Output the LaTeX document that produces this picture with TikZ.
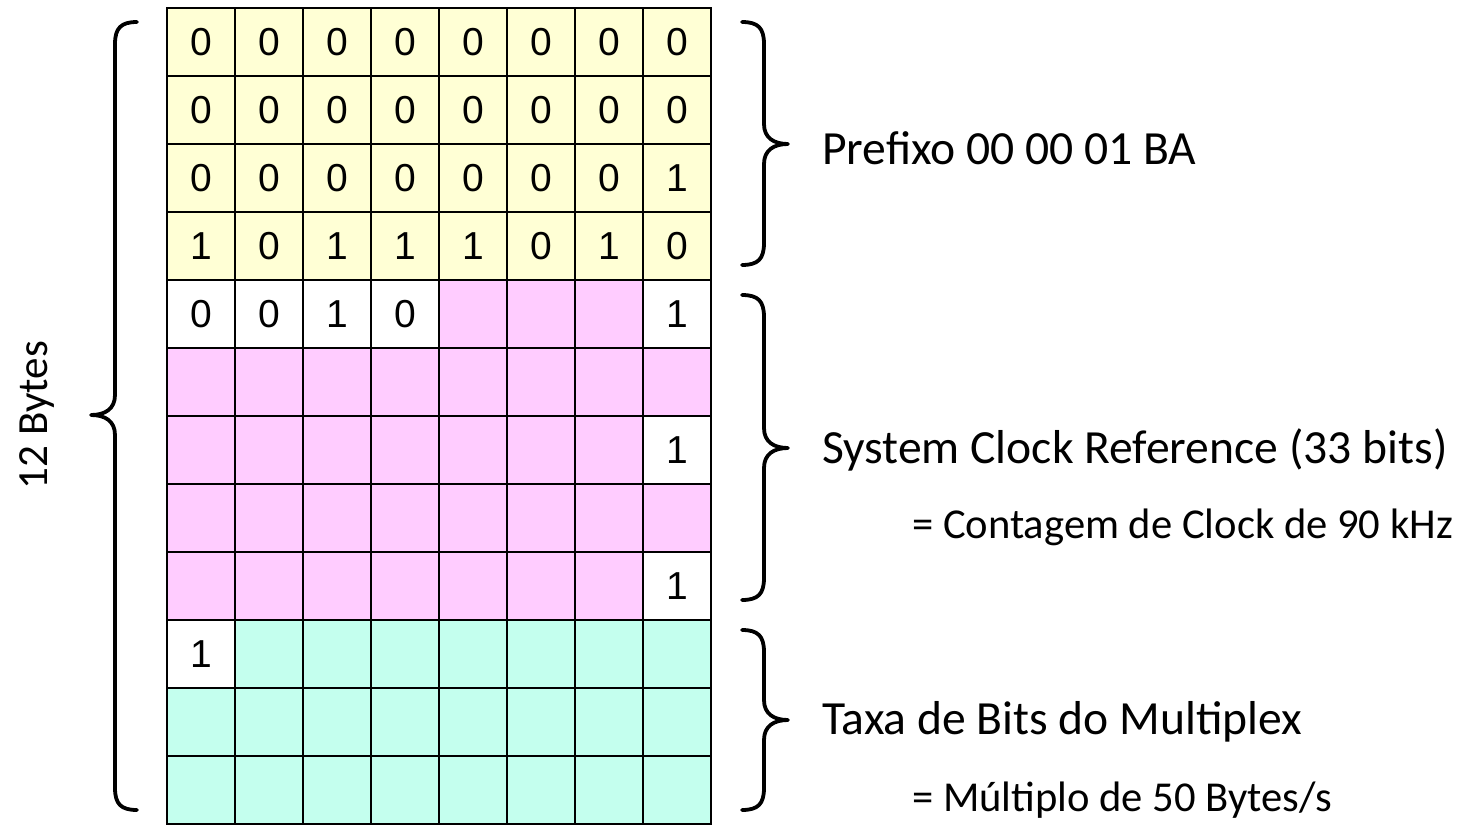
\documentclass[tikz,border=0pt]{standalone}
\usepackage{fontspec}
\setmainfont{Carlito}
\newfontfamily\arialfont{Liberation Sans}
\definecolor{yel}{HTML}{FFFFD5}
\definecolor{pnk}{HTML}{FFCCFF}
\definecolor{tea}{HTML}{C4FFEE}
\definecolor{wht}{HTML}{FFFFFF}
\tikzset{
  cell/.style={draw=black, line width=2.8pt, minimum size=68pt, inner sep=0pt, outer sep=0pt,
    font=\arialfont\fontsize{39}{39}\selectfont},
  bracepath/.style={line width=3.8pt, line cap=round, line join=round},
  biglabel/.style={anchor=west, inner sep=0pt, font=\fontsize{47.6}{47.6}\selectfont},
  smalllabel/.style={anchor=west, inner sep=0pt, font=\fontsize{42.6}{42.6}\selectfont},
}
\newcommand\byterow[2]{%
  \foreach \f/\d [count=\k] in {#2} {%
    \node[cell, fill=\f] (c#1-\k) at ({167+68*(\k-0.5)},{8+68*(#1-0.5)}) {\d};}}
\newcommand\rightbrc[3]{% top, bottom, tip y
  \draw[bracepath] (742,#1) .. controls (758,#1) and (764,{#1+6}) .. (764,{#1+22})
    -- (764,{#3-20}) .. controls (764,{#3-6}) and (774,#3) .. (788,#3)
    .. controls (774,#3) and (764,{#3+6}) .. (764,{#3+20})
    -- (764,{#2-22}) .. controls (764,{#2-6}) and (758,#2) .. (742,#2);}
\begin{document}
\begin{tikzpicture}[x=1pt,y=-1pt]
\useasboundingbox (0,0) rectangle (1459,825);
\byterow{1}{yel/0,yel/0,yel/0,yel/0,yel/0,yel/0,yel/0,yel/0}
\byterow{2}{yel/0,yel/0,yel/0,yel/0,yel/0,yel/0,yel/0,yel/0}
\byterow{3}{yel/0,yel/0,yel/0,yel/0,yel/0,yel/0,yel/0,yel/1}
\byterow{4}{yel/1,yel/0,yel/1,yel/1,yel/1,yel/0,yel/1,yel/0}
\byterow{5}{wht/0,wht/0,wht/1,wht/0,pnk/{},pnk/{},pnk/{},wht/1}
\byterow{6}{pnk/{},pnk/{},pnk/{},pnk/{},pnk/{},pnk/{},pnk/{},pnk/{}}
\byterow{7}{pnk/{},pnk/{},pnk/{},pnk/{},pnk/{},pnk/{},pnk/{},wht/1}
\byterow{8}{pnk/{},pnk/{},pnk/{},pnk/{},pnk/{},pnk/{},pnk/{},pnk/{}}
\byterow{9}{pnk/{},pnk/{},pnk/{},pnk/{},pnk/{},pnk/{},pnk/{},wht/1}
\byterow{10}{wht/1,tea/{},tea/{},tea/{},tea/{},tea/{},tea/{},tea/{}}
\byterow{11}{tea/{},tea/{},tea/{},tea/{},tea/{},tea/{},tea/{},tea/{}}
\byterow{12}{tea/{},tea/{},tea/{},tea/{},tea/{},tea/{},tea/{},tea/{}}
% left brace
\draw[bracepath] (137,22) .. controls (121,22) and (115,28) .. (115,44)
  -- (115,395) .. controls (115,409) and (105,415) .. (91,415)
  .. controls (105,415) and (115,421) .. (115,435)
  -- (115,788) .. controls (115,804) and (121,810) .. (137,810);
\node[rotate=90, inner sep=0pt, font=\fontsize{43}{43}\selectfont] (bytes) at (37,415) {12 Bytes};
% right braces
\rightbrc{22}{265}{144}
\rightbrc{295}{600}{448}
\rightbrc{630}{810}{720}
\node[biglabel] (pref) at (822,148) {Prefixo 00 00 01 BA};
\node[biglabel] (scr) at (822,450) {System Clock Reference (33 bits)};
\node[smalllabel] (cont) at (912,527) {= Contagem de Clock de 90 kHz};
\node[biglabel] (taxa) at (822,722) {Taxa de Bits do Multiplex};
\node[smalllabel] (mult) at (912,800) {= Múltiplo de 50 Bytes/s};
\end{tikzpicture}
\end{document}
